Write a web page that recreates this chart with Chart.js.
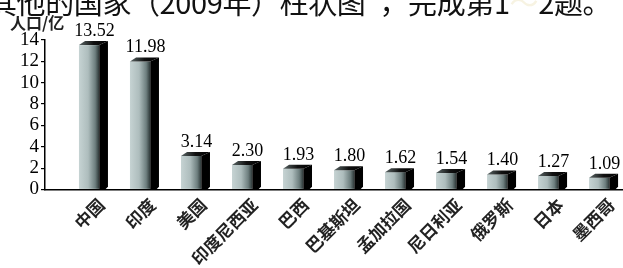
<!DOCTYPE html>
<html>
<head>
<meta charset="utf-8">
<script src="https://cdn.jsdelivr.net/npm/chart.js@4.4.1/dist/chart.umd.min.js"></script>
<style>
  html, body { margin: 0; padding: 0; background: #fff; }
  #wrap { position: relative; width: 623px; height: 268px; overflow: hidden; }
  #topline { position: absolute; left: -12px; top: -13px; font-family: "Noto Sans CJK SC", sans-serif; font-size: 29px; line-height: 1; letter-spacing: -0.4px; white-space: nowrap; color: #111; }
  #topline .faint { color: #f7f3e2; }
  #unit { position: absolute; left: 10px; top: 10px; font-family: "Noto Sans CJK SC", sans-serif; font-size: 16px; font-weight: bold; color: #222; }
  canvas { position: absolute; left: 0; top: 0; }
</style>
</head>
<body>
<div id="wrap">
  <canvas id="popChart" width="623" height="268"></canvas>
  <div id="topline">其他的国家（2009年）柱状图”，完成第1<span class="faint">～</span>2题。</div>
  <div id="unit">人口/亿</div>
</div>
<script>
// 国家和人口（亿）
const countries = ['中国', '印度', '美国', '印度尼西亚', '巴西', '巴基斯坦', '孟加拉国', '尼日利亚', '俄罗斯', '日本', '墨西哥'];
const population = [13.52, 11.98, 3.14, 2.30, 1.93, 1.80, 1.62, 1.54, 1.40, 1.27, 1.09];
const yTicks = [0, 2, 4, 6, 8, 10, 12, 14];

// 画成立体柱子 + 数值标签
const bars3d = {
  id: 'bars3d',
  afterDatasetsDraw(chart) {
    const ctx = chart.ctx;
    const meta = chart.getDatasetMeta(0);
    meta.data.forEach((bar, i) => {
      const { x, y, base, width } = bar.getProps(['x', 'y', 'base', 'width'], true);
      const x0 = x - width / 2;
      const x1 = x0 + width * 0.7;
      const d = width * 0.3; // 侧面深度
      const h = 4;

      ctx.save();
      // 正面
      const g = ctx.createLinearGradient(x0, 0, x1, 0);
      g.addColorStop(0, '#c6d3d3');
      g.addColorStop(0.45, '#aebdbd');
      g.addColorStop(0.8, '#6e7f7f');
      g.addColorStop(1, '#2c3636');
      ctx.fillStyle = g;
      ctx.fillRect(x0, y, x1 - x0, base - y);

      // 侧面
      ctx.fillStyle = '#000';
      ctx.beginPath();
      ctx.moveTo(x1, y);
      ctx.lineTo(x1 + d, y - h);
      ctx.lineTo(x1 + d, base - 2);
      ctx.lineTo(x1 + d - 3, base + 1);
      ctx.lineTo(x1, base + 1);
      ctx.closePath();
      ctx.fill();

      // 顶面
      const gt = ctx.createLinearGradient(x0, 0, x1 + d, 0);
      gt.addColorStop(0, '#5a6666');
      gt.addColorStop(0.5, '#111');
      gt.addColorStop(1, '#000');
      ctx.fillStyle = gt;
      ctx.beginPath();
      ctx.moveTo(x0, y);
      ctx.lineTo(x0 + d * 0.7, y - h);
      ctx.lineTo(x1 + d, y - h);
      ctx.lineTo(x1, y);
      ctx.closePath();
      ctx.fill();

      // 数值
      ctx.fillStyle = '#000';
      ctx.font = '18px "Liberation Serif", serif';
      ctx.textAlign = 'center';
      ctx.textBaseline = 'bottom';
      ctx.fillText(population[i].toFixed(2), x + 1, y - h - 1);
      ctx.restore();
    });
  }
};

new Chart(document.getElementById('popChart'), {
  type: 'bar',
  data: {
    datasets: [{
      data: population.map((v, i) => ({ x: i, y: v })),
      backgroundColor: 'rgba(0,0,0,0)',
      borderWidth: 0,
      barThickness: 29
    }]
  },
  options: {
    responsive: false,
    animation: false,
    devicePixelRatio: 1,
    layout: { padding: { left: 18, top: 40, right: 0, bottom: -6 } },
    plugins: { legend: { display: false }, tooltip: { enabled: false } },
    scales: {
      x: {
        type: 'linear',
        offset: false,
        min: -0.95,
        max: 10.38,
        grid: { display: false, drawTicks: false, offset: false },
        border: { color: '#000', width: 1.5 },
        ticks: {
          stepSize: 1,
          includeBounds: false,
          autoSkip: false,
          maxRotation: 45,
          minRotation: 45,
          labelOffset: 8,
          padding: 5,
          color: '#222',
          font: { family: 'Noto Sans CJK SC', size: 17, weight: 'bold' },
          callback: v => countries[v] || ''
        }
      },
      y: {
        min: 0,
        max: 14,
        afterBuildTicks: axis => { axis.ticks = yTicks.map(v => ({ value: v })); },
        grid: { drawOnChartArea: false, drawTicks: true, tickLength: 4, color: '#000', lineWidth: 1.2 },
        border: { color: '#000', width: 1.5 },
        ticks: {
          autoSkip: false,
          padding: 2,
          color: '#000',
          font: { family: 'Liberation Serif', size: 19 }
        }
      }
    }
  },
  plugins: [bars3d]
});
</script>
</body>
</html>
